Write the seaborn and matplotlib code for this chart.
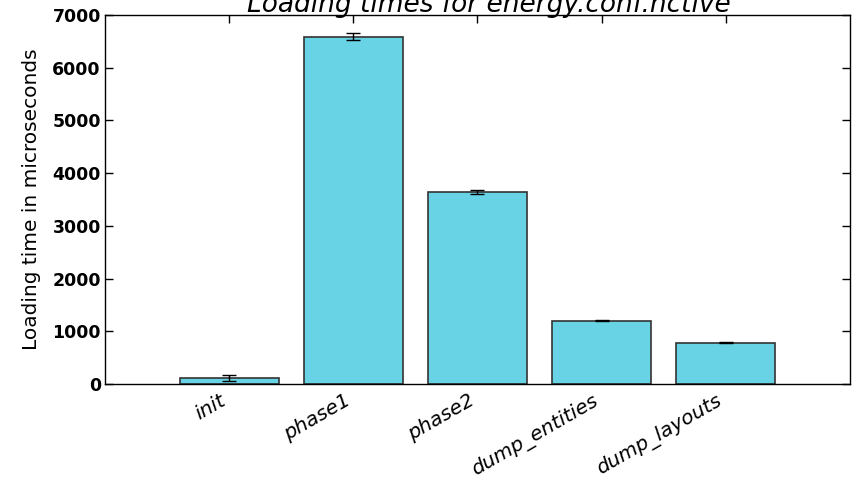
import matplotlib
matplotlib.use("Agg")
import matplotlib.pyplot as plt
import seaborn as sns
import pandas as pd
import numpy as np

categories = ["init", "phase1", "phase2", "dump_entities", "dump_layouts"]
load_times = [115, 6590, 3640, 1200, 780]
errors = [55, 60, 35, 10, 12]

sns.set_style("white")
plt.rcParams["font.family"] = ["DejaVu Sans"]
plt.rcParams["text.color"] = "black"
plt.rcParams["axes.labelcolor"] = "black"
plt.rcParams["xtick.color"] = "black"
plt.rcParams["ytick.color"] = "black"

df = pd.DataFrame({"phase": categories, "time": load_times})

fig = plt.figure(figsize=(8.56, 4.91), dpi=100)
ax = fig.add_axes([0.1227, 0.218, 0.870, 0.7515])

sns.barplot(data=df, x="phase", y="time", order=categories, color="#69D3E6",
            saturation=1, edgecolor="#333333", linewidth=1.2, width=0.8,
            errorbar=None, ax=ax)
ax.errorbar(np.arange(len(categories)), load_times, yerr=errors, fmt="none",
            ecolor="black", elinewidth=1, capsize=5, capthick=1)

ax.set_xlim(-1, 5)
ax.set_ylim(0, 7000)
ax.set_yticks(range(0, 7001, 1000))
ax.set_xticks(range(len(categories)))
ax.set_xticklabels(categories, rotation=30, ha="right", fontstyle="italic",
                   fontsize=14.5, color="black")
for lab in ax.get_yticklabels():
    lab.set_fontweight("bold")
    lab.set_fontsize(12.5)
    lab.set_color("black")
ax.tick_params(axis="both", direction="in", length=6, width=1, color="black",
               labelcolor="black", top=True, right=True, bottom=True, left=True,
               pad=3)
ax.tick_params(axis="x", pad=5)
for s in ax.spines.values():
    s.set_visible(True)
    s.set_color("black")
    s.set_linewidth(1)
ax.set_xlabel("")
ax.set_ylabel("Loading time in microseconds", fontsize=14.5, color="black",
              labelpad=8)
ax.set_title("Loading times for energy.conf.nctive", fontstyle="italic",
             fontsize=19, pad=2, color="black", x=0.515)

fig.savefig("out.png", dpi=100)
